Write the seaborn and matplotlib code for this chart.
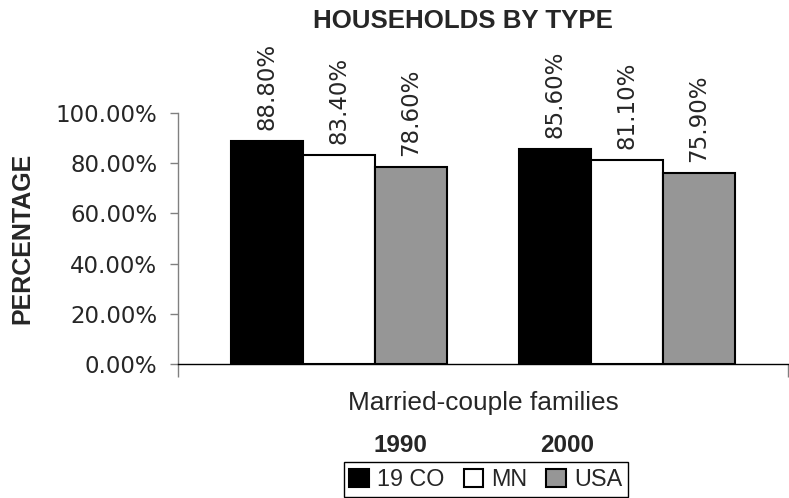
import pandas as pd
import seaborn as sns
import matplotlib.pyplot as plt
import matplotlib.ticker as ticker

# Datos del gráfico
anios = ["1990", "2000"]
areas = ["19 CO", "MN", "USA"]
valores_1990 = [88.8, 83.4, 78.6]
valores_2000 = [85.6, 81.1, 75.9]
colores = ["#000000", "#ffffff", "#969696"]

df = pd.DataFrame({
    "anio": [anios[0]] * 3 + [anios[1]] * 3,
    "area": areas * 2,
    "valor": valores_1990 + valores_2000,
})

sns.set_style("white")
plt.rcParams["font.family"] = ["DejaVu Sans"]

fig = plt.figure(figsize=(7.89, 4.98), dpi=100)
ax = fig.add_axes([178 / 789, 134 / 498, 610 / 789, 251 / 498])

sns.barplot(data=df, x="anio", y="valor", hue="area", order=anios, hue_order=areas,
            palette=colores, width=0.75, gap=0, saturation=1,
            edgecolor="black", linewidth=1.5, ax=ax)

# Etiquetas de valores sobre las barras
for cont in ax.containers:
    ax.bar_label(cont, labels=[f"{v:.2f}%" for v in cont.datavalues],
                 rotation=90, padding=8, fontsize=16.5)

# Eje Y
ax.set_ylim(0, 100)
ax.set_yticks(range(0, 101, 20))
ax.yaxis.set_major_formatter(ticker.FuncFormatter(lambda x, pos: f"{x:.2f}%"))
ax.tick_params(axis="y", direction="out", length=6, width=1, color="#808080",
               pad=9, labelsize=16.5, left=True)
ax.set_ylabel("PERCENTAGE", fontsize=18, fontweight="bold", family="Liberation Sans",
              va="center")
ax.yaxis.set_label_coords(-0.2557, 0.5)

# Eje X
ax.set_xlim(-0.56, 1.56)
ax.set_xticks([-0.56, 1.56])
ax.set_xticklabels(["", ""])
ax.tick_params(axis="x", direction="out", length=9, width=1, color="#808080", bottom=True)
ax.set_xlabel("Married-couple families", fontsize=18.9, family="Liberation Sans", va="center")
ax.xaxis.set_label_coords(0.5, -0.155)

for lado in ["top", "right"]:
    ax.spines[lado].set_visible(False)
ax.spines["left"].set_color("#808080")
ax.spines["left"].set_linewidth(1)
ax.spines["bottom"].set_color("black")
ax.spines["bottom"].set_linewidth(1)

# Título
fig.text(463 / 789, 1 - 21 / 498, "HOUSEHOLDS BY TYPE", ha="center", va="center",
         fontsize=18.6, fontweight="bold", family="Liberation Sans")

# Años debajo del eje
fig.text(400 / 789, 1 - 445.5 / 498, anios[0], ha="center", va="center",
         fontsize=17.5, fontweight="bold", family="Liberation Sans")
fig.text(567 / 789, 1 - 445.5 / 498, anios[1], ha="center", va="center",
         fontsize=17.5, fontweight="bold", family="Liberation Sans")

# Leyenda
handles, labels = ax.get_legend_handles_labels()
if ax.get_legend() is not None:
    ax.get_legend().remove()
leg = fig.legend(handles, labels, loc="lower center", bbox_to_anchor=(486 / 789, 0.0),
                 ncol=3, frameon=True, fancybox=False, edgecolor="black", framealpha=1,
                 handlelength=0.85, handleheight=0.85, handletextpad=0.35,
                 columnspacing=0.8, borderpad=0.25, borderaxespad=0.05,
                 prop={"family": "Liberation Sans", "size": 16.8})
leg.get_frame().set_linewidth(1)

fig.savefig("out.png", dpi=100)
plt.close(fig)
